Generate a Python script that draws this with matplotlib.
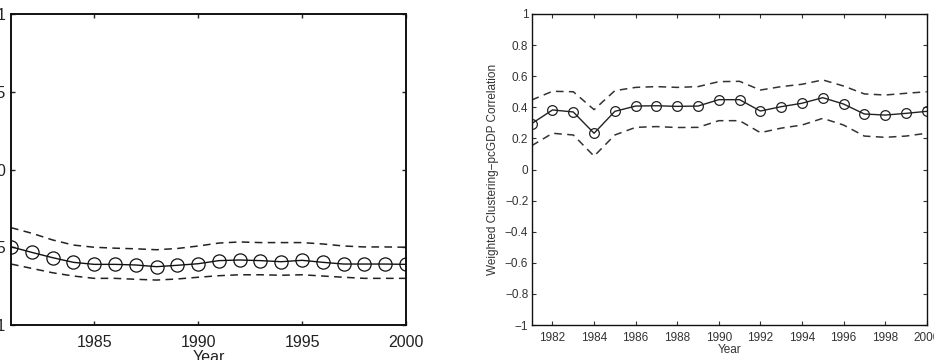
import matplotlib
matplotlib.use("Agg")
import matplotlib.pyplot as plt

plt.rcParams["font.family"] = ["Liberation Sans", "DejaVu Sans"]

years = list(range(1981, 2001))

# left panel: estimate and band
left_mid = [-0.497, -0.533, -0.567, -0.597, -0.610, -0.610, -0.614, -0.625, -0.616, -0.606,
            -0.586, -0.582, -0.586, -0.593, -0.584, -0.597, -0.608, -0.608, -0.608, -0.610]
left_upper = [-0.374, -0.410, -0.453, -0.486, -0.500, -0.506, -0.510, -0.516, -0.508, -0.492,
              -0.473, -0.466, -0.470, -0.470, -0.470, -0.479, -0.492, -0.498, -0.498, -0.500]
left_lower = [-0.608, -0.636, -0.664, -0.685, -0.700, -0.700, -0.706, -0.711, -0.704, -0.693,
              -0.683, -0.677, -0.677, -0.680, -0.677, -0.685, -0.693, -0.700, -0.700, -0.700]

# right panel: weighted clustering - pcGDP correlation
right_mid = [0.295, 0.383, 0.370, 0.233, 0.374, 0.408, 0.410, 0.406, 0.408, 0.449,
             0.449, 0.376, 0.404, 0.426, 0.462, 0.421, 0.357, 0.350, 0.361, 0.374]
right_upper = [0.447, 0.503, 0.500, 0.385, 0.507, 0.528, 0.533, 0.528, 0.533, 0.565,
               0.567, 0.511, 0.533, 0.548, 0.576, 0.537, 0.486, 0.479, 0.490, 0.500]
right_lower = [0.153, 0.233, 0.222, 0.086, 0.222, 0.271, 0.276, 0.270, 0.271, 0.314,
               0.314, 0.237, 0.266, 0.286, 0.329, 0.286, 0.215, 0.207, 0.215, 0.233]

left_xticks = [1985, 1990, 1995, 2000]
left_yticks = [-1, -0.5, 0, 0.5, 1]
right_xticks = list(range(1982, 2001, 2))
right_yticks = [-1, -0.8, -0.6, -0.4, -0.2, 0, 0.2, 0.4, 0.6, 0.8, 1]


def minus(v):
    return f"{v:g}".replace("-", "\u2212")


fig = plt.figure(figsize=(9.34, 3.6), dpi=100)

# left panel (bigger font, cropped at the image edge)
ax1 = fig.add_axes([11 / 934, 35 / 360, 395 / 934, 311 / 360])
ax1.plot(years, left_upper, color="#222222", ls=(0, (5, 3.5)), lw=1.1)
ax1.plot(years, left_lower, color="#222222", ls=(0, (5, 3.5)), lw=1.1)
ax1.plot(years, left_mid, color="#111111", lw=1.0, marker="o", ms=9.5,
         mfc="none", mec="#111111", mew=0.9)
ax1.set_xlim(1981, 2000)
ax1.set_ylim(-1, 1)
ax1.set_xticks(left_xticks)
ax1.set_yticks(left_yticks)
ax1.set_yticklabels([minus(v) for v in left_yticks])
ax1.tick_params(direction="in", length=3, width=1, top=True, right=True,
                labelsize=11.5, colors="#222222")
ax1.tick_params(axis="x", pad=7)
ax1.tick_params(axis="y", pad=4)
ax1.set_xlabel("Year", fontsize=11.5, color="#222222", labelpad=0)
for s in ax1.spines.values():
    s.set_linewidth(1.4)
    s.set_color("#111111")

# right panel
ax2 = fig.add_axes([531.7 / 934, 35 / 360, 395 / 934, 311 / 360])
ax2.plot(years, right_upper, color="#333333", ls=(0, (5, 3.5)), lw=1.1)
ax2.plot(years, right_lower, color="#333333", ls=(0, (5, 3.5)), lw=1.1)
ax2.plot(years, right_mid, color="#222222", lw=1.0, marker="o", ms=7,
         mfc="none", mec="#222222", mew=0.9)
ax2.set_xlim(1981, 2000)
ax2.set_ylim(-1, 1)
ax2.set_xticks(right_xticks)
ax2.set_yticks(right_yticks)
ax2.set_yticklabels([minus(v) for v in right_yticks])
ax2.tick_params(direction="in", length=3, width=0.8, top=True, right=True,
                labelsize=8.5, colors="#333333")
ax2.tick_params(axis="x", pad=5)
ax2.tick_params(axis="y", pad=2.5)
ax2.set_xlabel("Year", fontsize=8.5, color="#333333", labelpad=0)
ax2.set_ylabel("Weighted Clustering\u2212pcGDP Correlation", fontsize=8.5,
               color="#333333", labelpad=4)
for s in ax2.spines.values():
    s.set_linewidth(1.0)
    s.set_color("#111111")

fig.savefig("out.png", dpi=100)
